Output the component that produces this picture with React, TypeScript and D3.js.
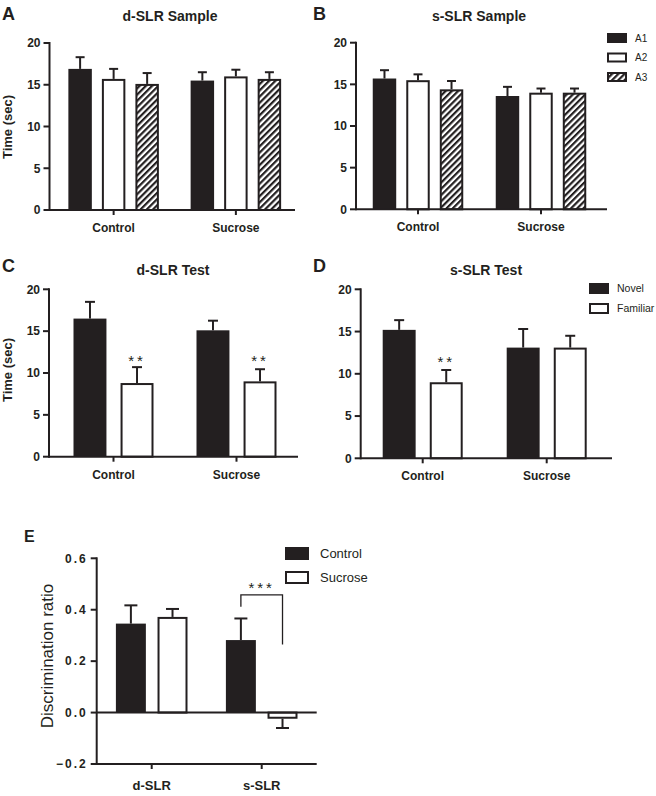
import React from "react";
import * as d3 from "d3";

// ---------- DATA ----------
const groupCategories = ["Control", "Sucrose"];
const sampleSeries = ["A1", "A2", "A3"];
const testSeries = ["Novel", "Familiar"];
const timeTicks = [0, 5, 10, 15, 20];

// Panel A: d-SLR Sample (rows = Control, Sucrose; cols = A1, A2, A3)
const dSampleMean = [
  [16.9, 15.7, 15.1],
  [15.5, 16.0, 15.7],
];
const dSampleSem = [
  [1.4, 1.2, 1.3],
  [1.0, 0.8, 0.8],
];
// Panel B: s-SLR Sample
const sSampleMean = [
  [15.7, 15.5, 14.4],
  [13.6, 14.0, 14.0],
];
const sSampleSem = [
  [1.0, 0.7, 1.0],
  [1.1, 0.5, 0.5],
];
// Panel C: d-SLR Test (cols = Novel, Familiar)
const dTestMean = [
  [16.5, 8.8],
  [15.1, 9.0],
];
const dTestSem = [
  [2.0, 1.9],
  [1.15, 1.45],
];
const dTestStars = [
  ["", "**"],
  ["", "**"],
];
// Panel D: s-SLR Test
const sTestMean = [
  [15.2, 9.0],
  [13.1, 13.1],
];
const sTestSem = [
  [1.15, 1.45],
  [2.2, 1.4],
];
const sTestStars = [
  ["", "**"],
  ["", ""],
];
// Panel E: discrimination ratio (rows = d-SLR, s-SLR; cols = Control, Sucrose)
const ratioCategories = ["d-SLR", "s-SLR"];
const ratioSeries = ["Control", "Sucrose"];
const ratioMean = [
  [0.346, 0.372],
  [0.282, -0.024],
];
const ratioSem = [
  [0.071, 0.031],
  [0.084, 0.036],
];
const ratioTicks = [-0.2, 0, 0.2, 0.4, 0.6];

const FONT = "'Liberation Sans', Arial, Helvetica, sans-serif";
const INK = "#231f20";

type Fill = "black" | "white" | "hatch";

interface PanelCfg {
  categories: string[];
  series: string[];
  mean: number[][];
  sem: number[][];
  stars?: string[][];
  fills: Fill[];
  axisX: [number, number];
  band: [number, number];
  groupWidth: number;
  padInner: number;
  yDomain: [number, number];
  yRange: [number, number];
  ticks: number[];
  tickFmt: (v: number) => string;
  tickFont: number;
  tickSpacing: number;
  capW: number;
  xLabelOffset: number;
  xLabelSize: number;
  starLevel?: number;
  zeroLine?: boolean;
}

function fillOf(f: Fill) {
  if (f === "black") return INK;
  if (f === "white") return "#ffffff";
  return "url(#hatch)";
}

function BarPanel({ cfg }: { cfg: PanelCfg }) {
  const xg = d3.scaleBand<string>().domain(cfg.categories).range(cfg.band);
  const xs = d3
    .scaleBand<string>()
    .domain(cfg.series)
    .range([-cfg.groupWidth / 2, cfg.groupWidth / 2])
    .paddingInner(cfg.padInner)
    .paddingOuter(0);
  const y = d3.scaleLinear().domain(cfg.yDomain).range(cfg.yRange);
  const bw = xs.bandwidth();
  const [ax0, ax1] = cfg.axisX;
  const yBase = y(cfg.yDomain[0]);

  return (
    <g>
      {cfg.categories.map((c, i) => {
        const cx = (xg(c) as number) + xg.bandwidth() / 2;
        return (
          <g key={c}>
            {cfg.series.map((s, j) => {
              const v = cfg.mean[i][j];
              const e = cfg.sem[i][j];
              const bx = cx + (xs(s) as number);
              const mid = bx + bw / 2;
              const y0 = y(0);
              const yv = y(v);
              const yErr = y(v + (v >= 0 ? e : -e));
              const f = cfg.fills[j];
              const inset = f === "black" ? 0 : 1;
              const top = Math.min(y0, yv);
              const h = Math.abs(y0 - yv);
              return (
                <g key={s}>
                  <line x1={mid} x2={mid} y1={yv} y2={yErr} stroke={INK} strokeWidth={2} />
                  <line
                    x1={mid - cfg.capW / 2}
                    x2={mid + cfg.capW / 2}
                    y1={yErr}
                    y2={yErr}
                    stroke={INK}
                    strokeWidth={2}
                  />
                  <rect
                    x={bx + inset}
                    y={top + (v >= 0 ? inset : 0)}
                    width={bw - 2 * inset}
                    height={Math.max(0, h - inset)}
                    fill={fillOf(f)}
                    stroke={f === "black" ? "none" : INK}
                    strokeWidth={2}
                  />
                  {cfg.stars && cfg.stars[i][j] ? (
                    <text
                      x={mid}
                      y={y(cfg.starLevel as number)}
                      textAnchor="middle"
                      fontFamily={FONT}
                      fontSize={15}
                      letterSpacing={3}
                      fill={INK}
                    >
                      {cfg.stars[i][j]}
                    </text>
                  ) : null}
                </g>
              );
            })}
            <line x1={cx} x2={cx} y1={yBase} y2={yBase + 5} stroke={INK} strokeWidth={2} />
            <text
              x={cx}
              y={yBase + cfg.xLabelOffset}
              textAnchor="middle"
              fontFamily={FONT}
              fontWeight="bold"
              fontSize={cfg.xLabelSize}
              fill={INK}
            >
              {c}
            </text>
          </g>
        );
      })}
      {cfg.zeroLine ? (
        <line x1={ax0} x2={ax1} y1={y(0)} y2={y(0)} stroke={INK} strokeWidth={2} />
      ) : null}
      <line x1={ax0} x2={ax1} y1={yBase} y2={yBase} stroke={INK} strokeWidth={2} />
      <line
        x1={ax0}
        x2={ax0}
        y1={y(cfg.yDomain[1]) - 1}
        y2={yBase + 1}
        stroke={INK}
        strokeWidth={2}
      />
      {cfg.ticks.map((t) => (
        <g key={t}>
          <line x1={ax0 - 6} x2={ax0} y1={y(t)} y2={y(t)} stroke={INK} strokeWidth={2} />
          <text
            x={ax0 - 9}
            y={y(t) + cfg.tickFont * 0.36}
            textAnchor="end"
            fontFamily={FONT}
            fontWeight="bold"
            fontSize={cfg.tickFont}
            letterSpacing={cfg.tickSpacing}
            fill={INK}
          >
            {cfg.tickFmt(t)}
          </text>
        </g>
      ))}
    </g>
  );
}

function Legend({
  x,
  y,
  labels,
  fills,
  step,
  w,
  h,
  textDx,
  fontSize,
}: {
  x: number;
  y: number;
  labels: string[];
  fills: Fill[];
  step: number;
  w: number;
  h: number;
  textDx: number;
  fontSize: number;
}) {
  return (
    <g>
      {labels.map((l, i) => {
        const yy = y + i * step;
        const f = fills[i];
        const inset = f === "black" ? 0 : 1;
        return (
          <g key={l}>
            <rect
              x={x + inset}
              y={yy + inset}
              width={w - 2 * inset}
              height={h - 2 * inset}
              fill={fillOf(f)}
              stroke={f === "black" ? "none" : INK}
              strokeWidth={2}
            />
            <text
              x={x + w + textDx}
              y={yy + h / 2 + fontSize * 0.36}
              fontFamily={FONT}
              fontSize={fontSize}
              fill={INK}
            >
              {l}
            </text>
          </g>
        );
      })}
    </g>
  );
}

const timeFmt = (v: number) => String(v);
const ratioFmt = (v: number) => d3.format(".1f")(v);

const panelA: PanelCfg = {
  categories: groupCategories,
  series: sampleSeries,
  mean: dSampleMean,
  sem: dSampleSem,
  fills: ["black", "white", "hatch"],
  axisX: [49.5, 295],
  band: [52.5, 297],
  groupWidth: 90.5,
  padInner: 0.3,
  yDomain: [0, 20],
  yRange: [210, 43],
  ticks: timeTicks,
  tickFmt: timeFmt,
  tickFont: 12,
  tickSpacing: 0,
  capW: 9,
  xLabelOffset: 22,
  xLabelSize: 12,
};
const panelB: PanelCfg = {
  ...panelA,
  mean: sSampleMean,
  sem: sSampleSem,
  axisX: [356, 607],
  band: [356.5, 602.5],
  yRange: [209.3, 42.7],
};
const panelC: PanelCfg = {
  categories: groupCategories,
  series: testSeries,
  mean: dTestMean,
  sem: dTestSem,
  stars: dTestStars,
  starLevel: 10.8,
  fills: ["black", "white"],
  axisX: [49, 298],
  band: [52, 298],
  groupWidth: 80,
  padInner: 0.3,
  yDomain: [0, 20],
  yRange: [456.7, 289.3],
  ticks: timeTicks,
  tickFmt: timeFmt,
  tickFont: 12,
  tickSpacing: 0,
  capW: 10,
  xLabelOffset: 22,
  xLabelSize: 12,
};
const panelD: PanelCfg = {
  ...panelC,
  mean: sTestMean,
  sem: sTestSem,
  stars: sTestStars,
  axisX: [360.7, 612],
  band: [360.7, 608.7],
  yRange: [458.3, 289.3],
};
const panelE: PanelCfg = {
  categories: ratioCategories,
  series: ratioSeries,
  mean: ratioMean,
  sem: ratioSem,
  fills: ["black", "white"],
  axisX: [96.7, 316.7],
  band: [96.7, 316.7],
  groupWidth: 71.6,
  padInner: 0.28,
  yDomain: [-0.2, 0.6],
  yRange: [764, 558.3],
  ticks: ratioTicks,
  tickFmt: ratioFmt,
  tickFont: 12,
  tickSpacing: 2,
  capW: 13,
  xLabelOffset: 26,
  xLabelSize: 13,
  zeroLine: true,
};

function Bracket() {
  const xg = d3.scaleBand<string>().domain(ratioCategories).range(panelE.band);
  const xs = d3
    .scaleBand<string>()
    .domain(ratioSeries)
    .range([-panelE.groupWidth / 2, panelE.groupWidth / 2])
    .paddingInner(panelE.padInner);
  const y = d3.scaleLinear().domain(panelE.yDomain).range(panelE.yRange);
  const cx = (xg("s-SLR") as number) + xg.bandwidth() / 2;
  const xa = cx + (xs("Control") as number) + xs.bandwidth() / 2;
  const xb = cx + (xs("Sucrose") as number) + xs.bandwidth() / 2;
  const yTop = y(0.458);
  const path = `M${xa},${y(0.412)}V${yTop}H${xb}V${y(0.265)}`;
  return (
    <g>
      <path d={path} fill="none" stroke={INK} strokeWidth={1.3} />
      <text
        x={(xa + xb) / 2}
        y={yTop - 2}
        textAnchor="middle"
        fontFamily={FONT}
        fontSize={15}
        letterSpacing={3}
        fill={INK}
      >
        ***
      </text>
    </g>
  );
}

function Title({ x, y, text }: { x: number; y: number; text: string }) {
  return (
    <text x={x} y={y} textAnchor="middle" fontFamily={FONT} fontWeight="bold" fontSize={14} fill={INK}>
      {text}
    </text>
  );
}

function Letter({ x, y, text, size = 18 }: { x: number; y: number; text: string; size?: number }) {
  return (
    <text x={x} y={y} fontFamily={FONT} fontWeight="bold" fontSize={size} fill={INK}>
      {text}
    </text>
  );
}

function YLabel({ x, y, text, bold, size }: { x: number; y: number; text: string; bold: boolean; size: number }) {
  return (
    <text
      transform={`translate(${x},${y}) rotate(-90)`}
      textAnchor="middle"
      fontFamily={FONT}
      fontWeight={bold ? "bold" : "normal"}
      fontSize={size}
      fill={INK}
    >
      {text}
    </text>
  );
}

export default function App() {
  return (
    <div style={{ position: "absolute", left: 0, top: 0 }}>
      <svg width={656} height={796} viewBox="0 0 656 796" style={{ display: "block", background: "#fff" }}>
        <defs>
          <pattern
            id="hatch"
            patternUnits="userSpaceOnUse"
            width={4.4}
            height={4.4}
            patternTransform="rotate(45)"
          >
            <rect width={4.4} height={4.4} fill="#fff" />
            <line x1={1.1} y1={0} x2={1.1} y2={4.4} stroke={INK} strokeWidth={2.2} />
          </pattern>
        </defs>
        <rect width={656} height={796} fill="#fff" />

        <Letter x={2} y={20} text="A" />
        <Title x={170} y={21} text="d-SLR Sample" />
        <YLabel x={12} y={127} text="Time (sec)" bold size={13} />
        <BarPanel cfg={panelA} />

        <Letter x={313} y={20} text="B" />
        <Title x={479} y={21} text="s-SLR Sample" />
        <BarPanel cfg={panelB} />
        <Legend
          x={607}
          y={33}
          labels={sampleSeries}
          fills={["black", "white", "hatch"]}
          step={19.5}
          w={20}
          h={10}
          textDx={8}
          fontSize={10}
        />

        <Letter x={2} y={272} text="C" />
        <Title x={173} y={275} text="d-SLR Test" />
        <YLabel x={12} y={370} text="Time (sec)" bold size={13} />
        <BarPanel cfg={panelC} />

        <Letter x={313} y={272} text="D" />
        <Title x={486} y={275} text="s-SLR Test" />
        <BarPanel cfg={panelD} />
        <Legend
          x={589}
          y={283}
          labels={testSeries}
          fills={["black", "white"]}
          step={20}
          w={20}
          h={11}
          textDx={8}
          fontSize={10.5}
        />

        <Letter x={24} y={542} text="E" size={16} />
        <YLabel x={53} y={656} text="Discrimination ratio" bold={false} size={17} />
        <BarPanel cfg={panelE} />
        <Bracket />
        <Legend
          x={285}
          y={547}
          labels={ratioSeries}
          fills={["black", "white"]}
          step={24}
          w={24}
          h={13}
          textDx={11}
          fontSize={13}
        />
      </svg>
    </div>
  );
}
